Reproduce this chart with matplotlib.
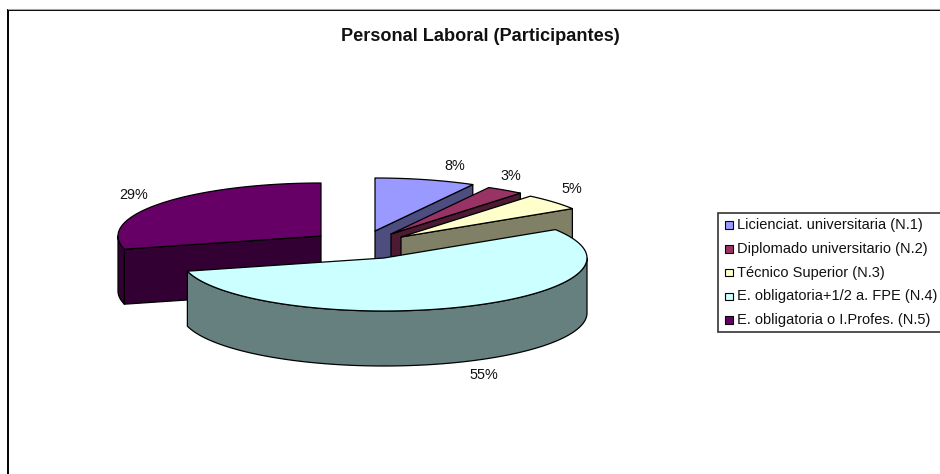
import numpy as np
import matplotlib
matplotlib.use("Agg")
import matplotlib.pyplot as plt
from matplotlib.patches import Polygon, Rectangle

plt.rcParams['font.family'] = ['Liberation Sans', 'DejaVu Sans']

title = "Personal Laboral (Participantes)"
categories = ["Licienciat. universitaria (N.1)", "Diplomado universitario (N.2)",
              "Técnico Superior (N.3)", "E. obligatoria+1/2 a. FPE (N.4)",
              "E. obligatoria o I.Profes. (N.5)"]
values = [8, 3, 5, 55, 29]
top_colors = ["#9999FF", "#993366", "#FFFFCC", "#CCFFFF", "#660066"]
side_colors = ["#4D4D80", "#4D1A33", "#808066", "#668080", "#330033"]

# pie geometry, in figure pixels
RX, RY, DEPTH = 203, 53, 55
apex = [(375, 231), (391, 234), (401, 237), (384, 258), (321, 236)]
label_pos = [(455, 166), (511, 176), (572, 189), (484, 375), (134, 195)]

W, H = 940, 474
fig = plt.figure(figsize=(W / 100, H / 100), dpi=100)
ax = fig.add_axes([0, 0, 1, 1])
ax.set_xlim(0, W)
ax.set_ylim(H, 0)
ax.axis("off")

# chart frame
ax.plot([7.5, W], [9.2, 9.2], color="#a8a8a8", lw=0.8)
ax.add_patch(Rectangle((8, 10), W + 20, H + 20, fc="white", ec="black", lw=1.4))


def pt(c, deg):
    th = np.radians(deg)
    return c[0] + RX * np.sin(th), c[1] - RY * np.cos(th)


edges = np.cumsum([0] + values) / sum(values) * 360
for i in [4, 0, 1, 2, 3]:  # back to front
    a, b = edges[i], edges[i + 1]
    c = apex[i]
    kw = dict(closed=True, ec="black", lw=0.9, joinstyle="round", fc=side_colors[i])
    # radial walls facing the viewer
    for ang, visible in ((a, 180 < a < 360), (b, 0 < b < 180)):
        if visible:
            ex, ey = pt(c, ang)
            ax.add_patch(Polygon([c, (ex, ey), (ex, ey + DEPTH), (c[0], c[1] + DEPTH)], **kw))
    # outer rim (visible from 90 to 270 degrees)
    lo, hi = max(a, 90), min(b, 270)
    if lo < hi:
        x, y = pt(c, np.linspace(lo, hi, 120))
        ax.add_patch(Polygon(np.r_[np.c_[x, y], np.c_[x, y + DEPTH][::-1]], **kw))
    # top face
    x, y = pt(c, np.linspace(a, b, 120))
    ax.add_patch(Polygon(np.r_[[c], np.c_[x, y]], closed=True, ec="black", lw=0.9,
                         joinstyle="round", fc=top_colors[i]))
    ax.text(*label_pos[i], f"{values[i]}%", ha="center", va="center", fontsize=10.4, color="#111111")

ax.text(480, 36, title, ha="center", va="center", fontsize=13.1, fontweight="bold", color="#111111")

# legend
ax.add_patch(Rectangle((718, 213), W, 119, fc="white", ec="#333333", lw=1.2))
for k, name in enumerate(categories):
    yy = 225 + 23.8 * k
    ax.add_patch(Rectangle((725, yy - 3.8), 7.6, 7.6, fc=top_colors[k], ec="black", lw=0.8))
    ax.text(737, yy, name, ha="left", va="center", fontsize=10.5, color="#111111")

fig.savefig("out.png", dpi=100)
